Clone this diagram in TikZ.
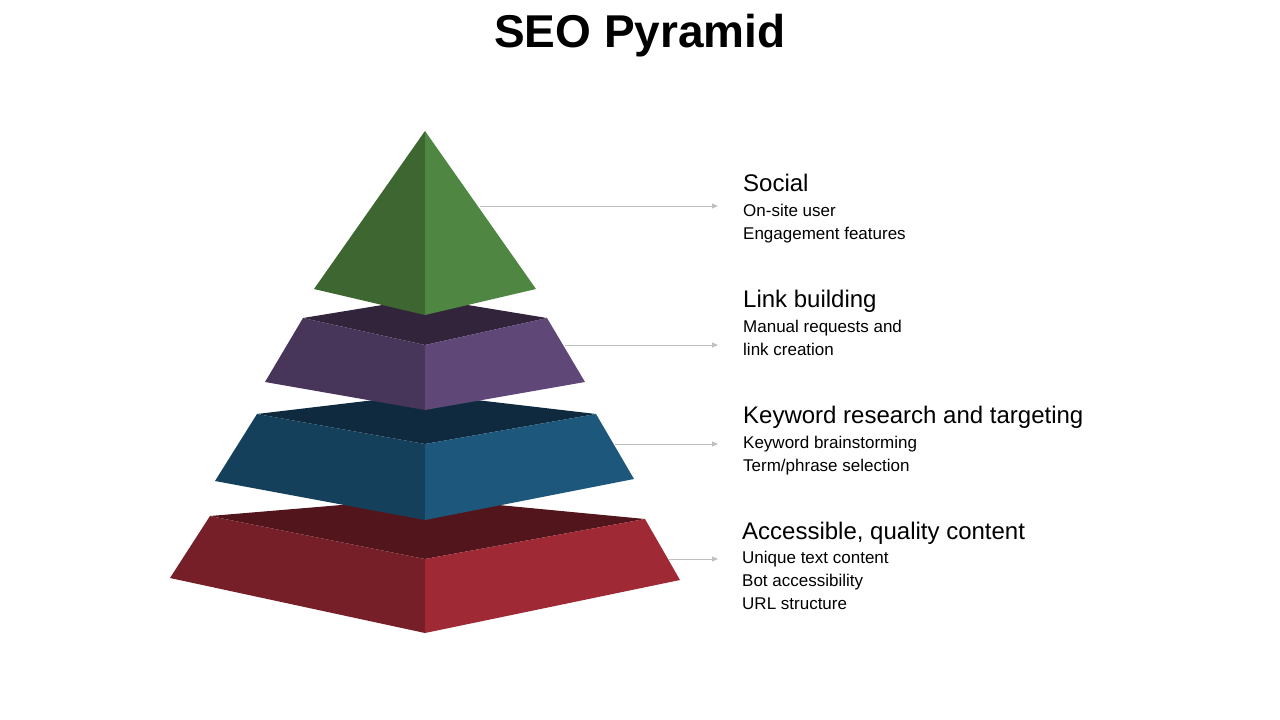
\documentclass[tikz,border=0pt]{standalone}
\usepackage{fontspec}
\setmainfont{Liberation Sans}
\usetikzlibrary{arrows.meta}
\definecolor{grnL}{HTML}{3D6631}
\definecolor{grnR}{HTML}{4F8642}
\definecolor{purT}{HTML}{32243B}
\definecolor{purL}{HTML}{47365A}
\definecolor{purR}{HTML}{5F4778}
\definecolor{bluT}{HTML}{0F2A3E}
\definecolor{bluL}{HTML}{15405B}
\definecolor{bluR}{HTML}{1D577B}
\definecolor{redT}{HTML}{52151C}
\definecolor{redL}{HTML}{771F28}
\definecolor{redR}{HTML}{9F2935}
\tikzset{
  head/.style={anchor=base west,inner sep=0pt,font=\fontsize{24}{28}\selectfont},
  sub/.style={anchor=north west,inner sep=0pt,align=left,font=\fontsize{17}{23}\selectfont},
  lead/.style={draw=black!25,line width=0.8pt,-{Triangle[length=6pt,width=5pt]}}
}
% one frustum: top left, back, top right, front, bottom left, bottom front, bottom right, colours
\newcommand\Layer[8]{
  \fill[#8T] #1 -- #2 -- #3 -- #4 -- cycle;
  \fill[#8L] #1 -- #4 -- #6 -- #5 -- cycle;
  \fill[#8R] #4 -- #3 -- #7 -- #6 -- cycle;
}
\begin{document}
\begin{tikzpicture}[x=1pt,y=-1pt]
\useasboundingbox (0,0) rectangle (1280,720);
\node[font=\bfseries\fontsize{46}{50}\selectfont] (title) at (640,36) {SEO Pyramid};
% layers, bottom first
\Layer{(210,516)}{(425,498)}{(645,519)}{(425,559)}{(170,578)}{(425,633)}{(680,580)}{red}
\Layer{(257,414)}{(425,394)}{(596,414)}{(425,444)}{(215,481)}{(425,520)}{(634,479)}{blu}
\Layer{(303,318)}{(425,298)}{(547,318)}{(425,345)}{(265,382)}{(425,410)}{(585,382)}{pur}
\fill[grnL] (425,131) -- (314,289) -- (425,315) -- cycle;
\fill[grnR] (425,131) -- (536,289) -- (425,315) -- cycle;
% labels
\node[head] (soc) at (743,191) {Social};
\node[sub] (socT) at (743,204) {On-site user\\Engagement features};
\node[head] (lnk) at (743,307) {Link building};
\node[sub] (lnkT) at (743,320) {Manual requests and\\link creation};
\node[head] (key) at (743,423) {Keyword research and targeting};
\node[sub] (keyT) at (743,436) {Keyword brainstorming\\Term/phrase selection};
\node[head] (acc) at (742,539) {Accessible, quality content};
\node[sub] (accT) at (742,551) {Unique text content\\Bot accessibility\\URL structure};
% leaders
\coordinate (s1) at (480,206); \coordinate (e1) at (718,206);
\coordinate (s2) at (565,345); \coordinate (e2) at (718,345);
\coordinate (s3) at (615,444); \coordinate (e3) at (718,444);
\coordinate (s4) at (668,559); \coordinate (e4) at (718,559);
\foreach \i in {1,...,4}
  \draw[lead] (s\i) -- (e\i);
\end{tikzpicture}
\end{document}
